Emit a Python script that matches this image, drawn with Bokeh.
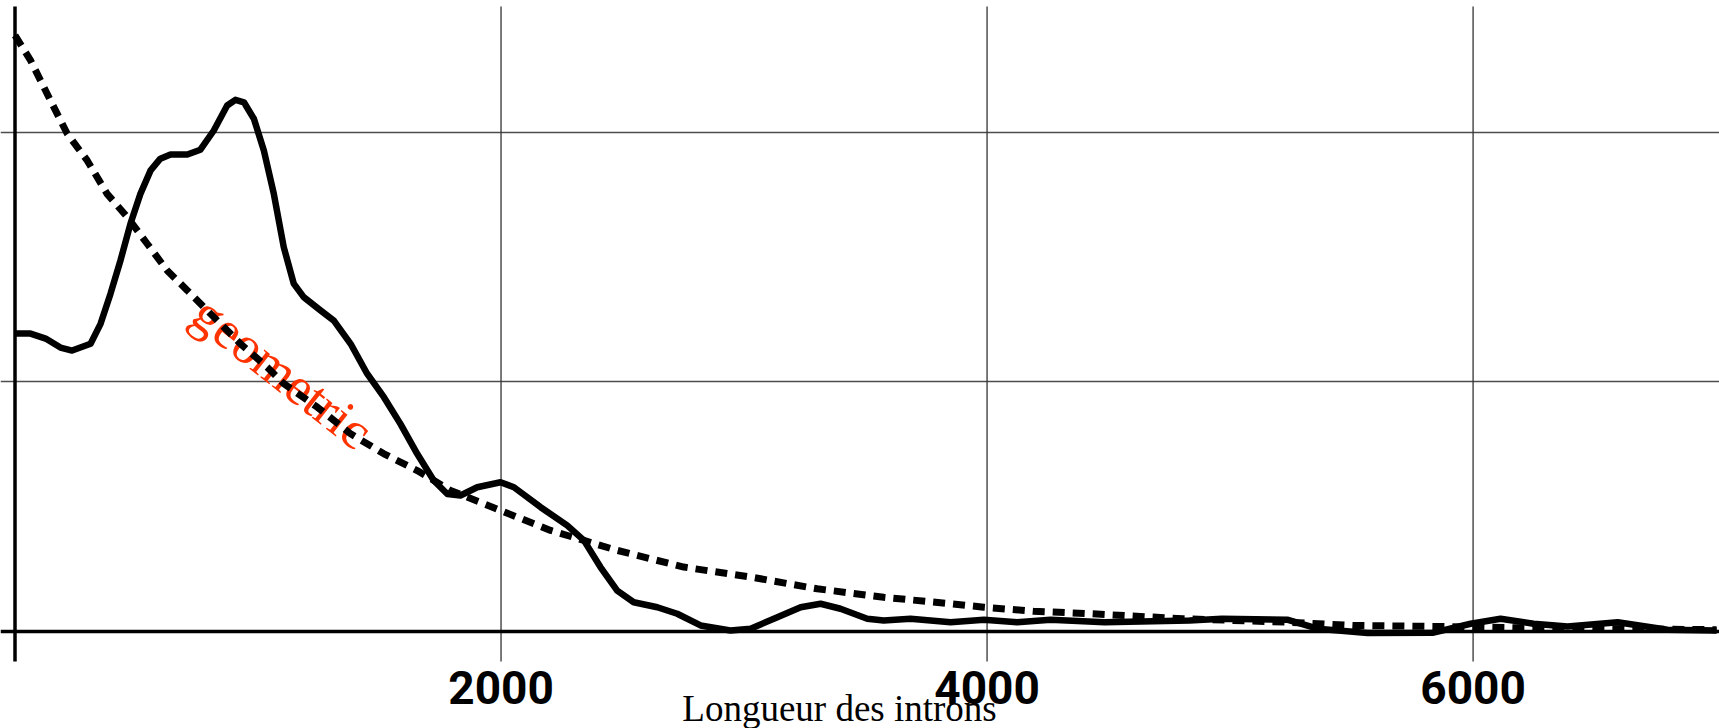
from bokeh.plotting import figure
from bokeh.models import Span, Label
from bokeh.core.properties import value
from bokeh.embed import file_html
from bokeh.resources import INLINE

# Observed density of intron lengths (smoothed curve, arbitrary density units)
intron_length = [0, 64, 126, 187, 235, 311, 352, 393, 434, 475, 516, 558, 598, 640, 709, 763,
                 818, 873, 907, 942, 983, 1024, 1065, 1106, 1147, 1188, 1257, 1312, 1381, 1449,
                 1518, 1586, 1655, 1723, 1779, 1833, 1902, 1998, 2053, 2163, 2272, 2341, 2409,
                 2478, 2546, 2643, 2725, 2821, 2944, 3027, 3137, 3233, 3315, 3397, 3507, 3575,
                 3685, 3850, 3987, 4124, 4261, 4484, 4833, 4967, 5235, 5360, 5566, 5837, 5990,
                 6113, 6249, 6389, 6595, 6800, 7002]
density = [1.194, 1.194, 1.174, 1.138, 1.126, 1.153, 1.233, 1.354, 1.487, 1.634, 1.754, 1.848,
           1.895, 1.912, 1.912, 1.931, 2.008, 2.108, 2.131, 2.121, 2.055, 1.928, 1.754, 1.540,
           1.394, 1.340, 1.287, 1.246, 1.153, 1.033, 0.939, 0.832, 0.712, 0.605, 0.551, 0.545,
           0.578, 0.598, 0.578, 0.498, 0.425, 0.365, 0.258, 0.164, 0.117, 0.097, 0.071, 0.024,
           0.004, 0.011, 0.057, 0.097, 0.111, 0.091, 0.051, 0.044, 0.051, 0.037, 0.047, 0.037,
           0.047, 0.037, 0.044, 0.051, 0.047, 0.011, -0.006, -0.005, 0.031, 0.051, 0.031, 0.020,
           0.037, 0.007, 0.004]

# Fitted geometric distribution (dashed curve)
geom_length = [0, 64, 146, 215, 297, 379, 462, 544, 626, 709, 805, 928, 1038, 1106, 1244, 1381,
               1518, 1655, 1792, 1929, 2067, 2204, 2341, 2478, 2752, 3027, 3301, 3575, 3850,
               3987, 4191, 4430, 4805, 5237, 5504, 5837, 6249, 7002]
geom_density = [2.389, 2.289, 2.128, 1.995, 1.888, 1.754, 1.661, 1.554, 1.447, 1.367, 1.273,
                1.153, 1.059, 0.993, 0.899, 0.792, 0.712, 0.645, 0.565, 0.512, 0.458, 0.405,
                0.365, 0.325, 0.258, 0.218, 0.171, 0.137, 0.111, 0.097, 0.081, 0.071, 0.051,
                0.037, 0.024, 0.020, 0.014, 0.007]

x_ticks = [2000, 4000, 6000]
x_tick_labels = ["2000", "4000", "6000"]
y_grid = [1, 2]
curve_label = "geometric"
x_title = "Longueur des introns"

Y_TOP = 2.505
Y_TICK_END = -0.12

p = figure(width=1719, height=728, x_range=(-59.7, 7014), y_range=(-0.389, 2.529),
           output_backend="svg", toolbar_location=None,
           min_border_left=0, min_border_right=0, min_border_top=0, min_border_bottom=0)
p.outline_line_color = None
p.background_fill_color = "white"
p.border_fill_color = "white"

p.xaxis.visible = False
p.yaxis.visible = False
p.xgrid.visible = False
p.ygrid.ticker = y_grid
p.ygrid.grid_line_color = "#4d4d4d"
p.ygrid.grid_line_width = 1.6

# vertical grid lines, extended below the x axis as tick marks
p.segment(x0=x_ticks, y0=[Y_TICK_END] * len(x_ticks), x1=x_ticks, y1=[Y_TOP] * len(x_ticks),
          line_color="#333333", line_width=1.3)

# axes through the origin
p.add_layout(Span(location=0, dimension="width", line_color="black", line_width=3.5))
p.segment(x0=[0], y0=[Y_TICK_END], x1=[0], y1=[Y_TOP], line_color="black", line_width=3.5)

p.add_layout(Label(x=759, y=1.302, text=curve_label, angle=-0.665,
                   text_color="#ff3300", text_font="Liberation Serif",
                   text_font_size="53px", text_baseline="alphabetic", text_align="left",
                   level="underlay"))

p.line(intron_length, density, line_color="black", line_width=6.5, line_join="round")
p.line(geom_length, geom_density, line_color="black", line_width=7, line_dash="12 8")

p.text(x=x_ticks, y=[-0.225] * len(x_ticks), text=x_tick_labels,
       text_font=value("Roboto"), text_font_style="bold", text_font_size="46px",
       text_align="center", text_baseline="alphabetic", text_color="black")

p.add_layout(Label(x=3393, y=-0.309, text=x_title, text_align="center",
                   text_baseline="alphabetic", text_font="Liberation Serif",
                   text_font_size="37px", text_color="black"))

open("out.html", "w").write(file_html(p, INLINE))
